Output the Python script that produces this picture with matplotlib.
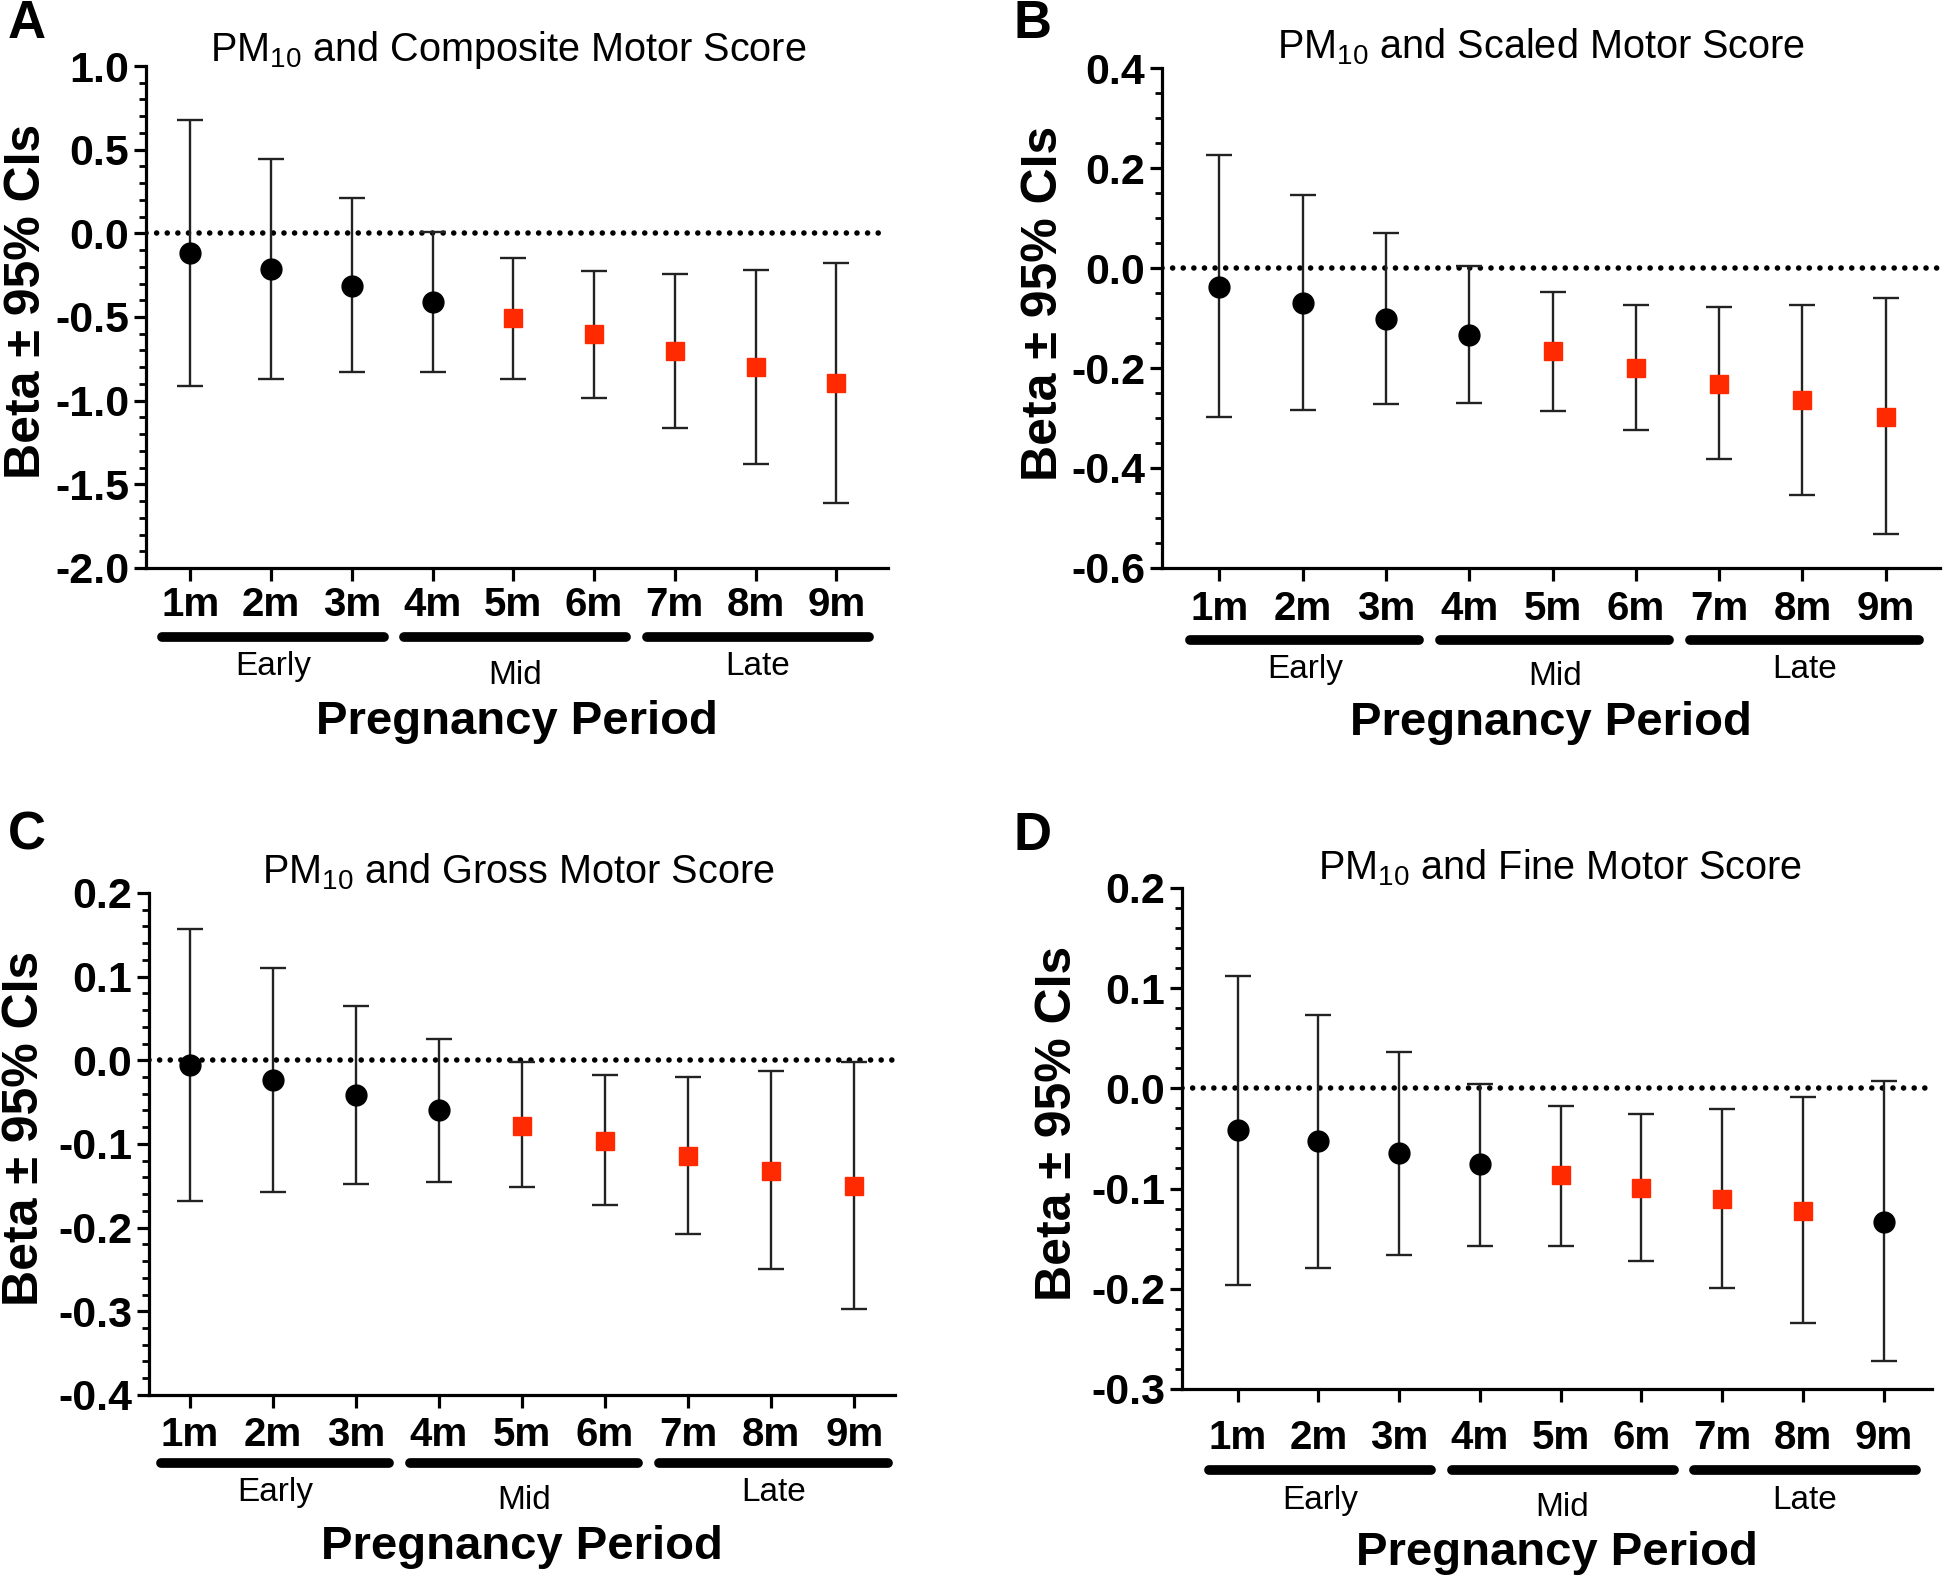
import matplotlib
matplotlib.use('Agg')
import matplotlib.pyplot as plt
from matplotlib.ticker import MultipleLocator, FormatStrFormatter

plt.rcParams['font.family'] = ['Liberation Sans', 'DejaVu Sans']
plt.rcParams['mathtext.default'] = 'regular'
plt.rcParams['axes.unicode_minus'] = False

# Data
months = ['1m', '2m', '3m', '4m', '5m', '6m', '7m', '8m', '9m']
periods = ['Early', 'Mid', 'Late']

composite_beta = [-0.117, -0.216, -0.312, -0.410, -0.506, -0.604, -0.701, -0.797, -0.894]
composite_low = [-0.911, -0.869, -0.830, -0.826, -0.869, -0.984, -1.161, -1.378, -1.612]
composite_high = [0.679, 0.443, 0.209, 0.007, -0.145, -0.223, -0.241, -0.217, -0.175]
composite_sig = [0, 0, 0, 0, 1, 1, 1, 1, 1]

scaled_beta = [-0.037, -0.069, -0.101, -0.134, -0.166, -0.199, -0.231, -0.264, -0.297]
scaled_low = [-0.297, -0.283, -0.272, -0.270, -0.285, -0.324, -0.383, -0.455, -0.533]
scaled_high = [0.227, 0.147, 0.071, 0.004, -0.047, -0.074, -0.078, -0.073, -0.059]
scaled_sig = [0, 0, 0, 0, 1, 1, 1, 1, 1]

gross_beta = [-0.006, -0.024, -0.042, -0.060, -0.078, -0.096, -0.114, -0.132, -0.150]
gross_low = [-0.168, -0.157, -0.148, -0.145, -0.152, -0.173, -0.208, -0.250, -0.297]
gross_high = [0.157, 0.110, 0.065, 0.025, -0.002, -0.018, -0.020, -0.013, -0.002]
gross_sig = [0, 0, 0, 0, 1, 1, 1, 1, 1]

fine_beta = [-0.042, -0.053, -0.065, -0.076, -0.087, -0.099, -0.110, -0.122, -0.133]
fine_low = [-0.196, -0.179, -0.166, -0.157, -0.157, -0.172, -0.199, -0.234, -0.272]
fine_high = [0.112, 0.073, 0.036, 0.004, -0.018, -0.026, -0.021, -0.009, 0.007]
fine_sig = [0, 0, 0, 0, 1, 1, 1, 1, 0]

red = '#ff2a00'

panels = [
    dict(letter='A', title='PM$_{10}$ and Composite Motor Score',
         beta=composite_beta, low=composite_low, high=composite_high, sig=composite_sig,
         rect=[0.0751, 0.6412, 0.3817, 0.3171], ylim=(-2.0, 1.0), major=0.5, minor=0.1,
         xlim=(0.45, 9.64), pad=4, title_xy=(0.488, 1.032), ylab_x=-0.160,
         bar_y=-0.137, lab_y=(-0.197, -0.215), xlab_y=-0.307, letter_xy=(0.014, 0.985)),
    dict(letter='B', title='PM$_{10}$ and Scaled Motor Score',
         beta=scaled_beta, low=scaled_low, high=scaled_high, sig=scaled_sig,
         rect=[0.5977, 0.6412, 0.4002, 0.3158], ylim=(-0.6, 0.4), major=0.2, minor=0.05,
         xlim=(0.31, 9.65), pad=7, title_xy=(0.487, 1.042), ylab_x=-0.152,
         bar_y=-0.144, lab_y=(-0.203, -0.218), xlab_y=-0.31, letter_xy=(0.531, 0.985)),
    dict(letter='C', title='PM$_{10}$ and Gross Motor Score',
         beta=gross_beta, low=gross_low, high=gross_high, sig=gross_sig,
         rect=[0.0766, 0.1188, 0.3838, 0.3171], ylim=(-0.4, 0.2), major=0.1, minor=0.02,
         xlim=(0.51, 9.49), pad=6, title_xy=(0.495, 1.042), ylab_x=-0.166,
         bar_y=-0.135, lab_y=(-0.195, -0.211), xlab_y=-0.303, letter_xy=(0.014, 0.472)),
    dict(letter='D', title='PM$_{10}$ and Fine Motor Score',
         beta=fine_beta, low=fine_low, high=fine_high, sig=fine_sig,
         rect=[0.608, 0.1226, 0.3858, 0.3165], ylim=(-0.3, 0.2), major=0.1, minor=0.02,
         xlim=(0.31, 9.6), pad=13, title_xy=(0.504, 1.04), ylab_x=-0.165,
         bar_y=-0.161, lab_y=(-0.222, -0.237), xlab_y=-0.327, letter_xy=(0.531, 0.472)),
]

fig = plt.figure(figsize=(19.44, 15.83), dpi=100)

for p in panels:
    ax = fig.add_axes(p['rect'])
    x = list(range(1, len(months) + 1))

    # dotted zero line
    ax.axhline(0, color='black', lw=4.0, linestyle=(0, (0.01, 1.9)),
               dash_capstyle='round', zorder=1)

    for i, xi in enumerate(x):
        b = p['beta'][i]
        err = [[b - p['low'][i]], [p['high'][i] - b]]
        if p['sig'][i]:
            ax.errorbar(xi, b, yerr=err, fmt='s', color=red, ms=13.5, mec=red,
                        ecolor='#222222', elinewidth=1.7, capsize=9.5, capthick=1.7, zorder=3)
        else:
            ax.errorbar(xi, b, yerr=err, fmt='o', color='black', ms=15,
                        ecolor='#222222', elinewidth=1.7, capsize=9.5, capthick=1.7, zorder=3)

    ax.set_xlim(*p['xlim'])
    ax.set_ylim(*p['ylim'])
    ax.set_xticks(x)
    ax.set_xticklabels(months, fontsize=29, fontweight='bold')
    ax.yaxis.set_major_locator(MultipleLocator(p['major']))
    ax.yaxis.set_minor_locator(MultipleLocator(p['minor']))
    ax.yaxis.set_major_formatter(FormatStrFormatter('%.1f'))
    for lab in ax.get_yticklabels():
        lab.set_fontsize(31)
        lab.set_fontweight('bold')

    for s in ['top', 'right']:
        ax.spines[s].set_visible(False)
    for s in ['left', 'bottom']:
        ax.spines[s].set_linewidth(2.3)
    ax.tick_params(axis='y', which='major', length=9, width=2.3, pad=3)
    ax.tick_params(axis='y', which='minor', length=5, width=2.0)
    ax.tick_params(axis='x', which='major', length=9, width=2.3, pad=p['pad'])

    ax.text(p['title_xy'][0], p['title_xy'][1], p['title'], transform=ax.transAxes,
            ha='center', va='center', fontsize=28.5)
    ax.text(p['ylab_x'], 0.53, 'Beta ± 95% CIs', transform=ax.transAxes, rotation=90,
            ha='center', va='center', fontsize=36, fontweight='bold')

    # period brackets under the month labels
    trans = ax.get_xaxis_transform()
    for k, name in enumerate(periods):
        x0 = 3 * k + 1 - 0.35
        x1 = 3 * k + 3 + 0.4
        ax.plot([x0, x1], [p['bar_y'], p['bar_y']], transform=trans, color='black',
                lw=7, solid_capstyle='round', clip_on=False)
        ly = p['lab_y'][1] if name == 'Mid' else p['lab_y'][0]
        ax.text((x0 + x1) / 2, ly, name, transform=trans, ha='center', va='center',
                fontsize=24)
    ax.text(0.5, p['xlab_y'], 'Pregnancy Period', transform=ax.transAxes,
            ha='center', va='center', fontsize=34, fontweight='bold')

    fig.text(p['letter_xy'][0], p['letter_xy'][1], p['letter'], ha='center', va='center',
             fontsize=38, fontweight='bold')

fig.savefig('out.png', dpi=100)
